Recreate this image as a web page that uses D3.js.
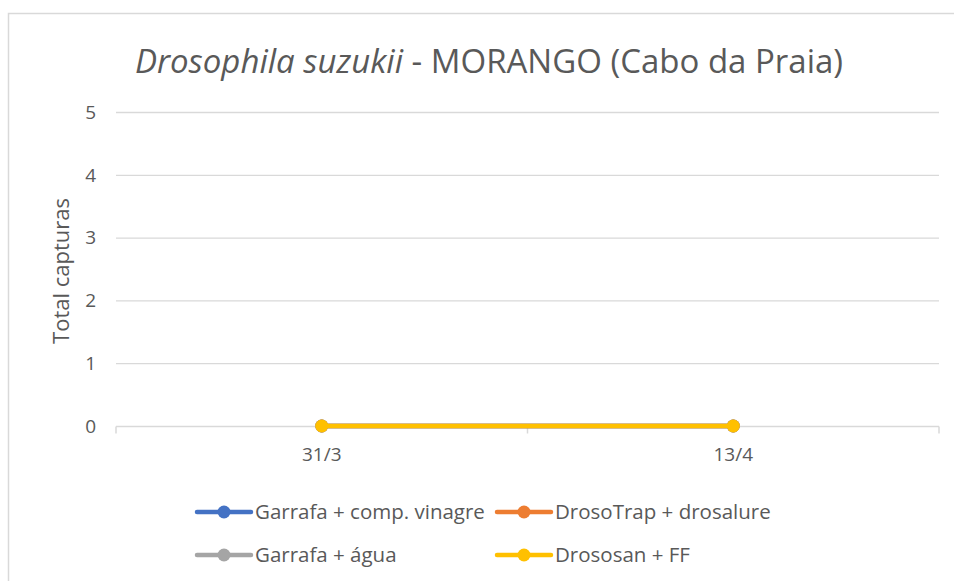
<!DOCTYPE html>
<html>
<head>
<meta charset="utf-8">
<script src="https://cdn.jsdelivr.net/npm/d3@7"></script>
<style>
  body { margin: 0; background: #fff; }
  svg { display: block; font-family: "Open Sans", "Noto Sans", sans-serif; }
</style>
</head>
<body>
<div id="chart"></div>
<script>
// data
const dates = ["31/3", "13/4"];
const seriesNames = ["Garrafa + comp. vinagre", "DrosoTrap + drosalure", "Garrafa + água", "Drososan + FF"];
const seriesColors = ["#4472C4", "#ED7D31", "#A5A5A5", "#FFC000"];
const garrafaVinagre = [0, 0];
const drosoTrap = [0, 0];
const garrafaAgua = [0, 0];
const drososan = [0, 0];
const yTicks = [0, 1, 2, 3, 4, 5];

const seriesValues = [garrafaVinagre, drosoTrap, garrafaAgua, drososan];

const W = 954, H = 581;
const plot = { left: 116, right: 939, top: 112, bottom: 426 };

const svg = d3.select("#chart").append("svg")
  .attr("width", W).attr("height", H);

// chart frame (runs off the right and bottom edges)
svg.append("rect")
  .attr("x", 8.5).attr("y", 13.5)
  .attr("width", W + 20).attr("height", H + 20)
  .attr("fill", "#fff")
  .attr("stroke", "#d9d9d9")
  .attr("stroke-width", 1.5);

const x = d3.scaleBand().domain(dates).range([plot.left, plot.right]);
const y = d3.scaleLinear().domain([0, 5]).range([plot.bottom, plot.top]);

// gridlines
svg.append("g")
  .selectAll("line")
  .data(yTicks.filter(d => d > 0))
  .join("line")
  .attr("x1", plot.left).attr("x2", plot.right)
  .attr("y1", d => y(d) + 0.5).attr("y2", d => y(d) + 0.5)
  .attr("stroke", "#d9d9d9").attr("stroke-width", 1.3);

// y tick labels
svg.append("g")
  .selectAll("text")
  .data(yTicks)
  .join("text")
  .attr("x", 96)
  .attr("y", d => y(d))
  .attr("dy", "0.36em")
  .attr("text-anchor", "end")
  .attr("font-size", "19px")
  .attr("fill", "#595959")
  .text(d => d);

// x axis line with category boundary ticks
const xAxis = d3.axisBottom(x).tickSize(0).tickFormat("");
const gx = svg.append("g")
  .attr("transform", `translate(0,${plot.bottom + 0.5})`)
  .call(xAxis);
gx.select(".domain").attr("stroke", "#d9d9d9").attr("stroke-width", 1.5)
  .attr("d", `M${plot.left},0H${plot.right}`);
const bounds = [plot.left, ...dates.slice(1).map(d => x(d)), plot.right];
gx.selectAll(".bound")
  .data(bounds)
  .join("line")
  .attr("class", "bound")
  .attr("x1", d => d).attr("x2", d => d)
  .attr("y1", 0).attr("y2", 7)
  .attr("stroke", "#d9d9d9").attr("stroke-width", 1.5);

// x tick labels
svg.append("g")
  .selectAll("text")
  .data(dates)
  .join("text")
  .attr("x", d => x(d) + x.bandwidth() / 2)
  .attr("y", 461)
  .attr("text-anchor", "middle")
  .attr("font-size", "19px")
  .attr("fill", "#595959")
  .text(d => d);

// axis title
svg.append("text")
  .attr("transform", `translate(69,${(plot.top + plot.bottom) / 2 + 2}) rotate(-90)`)
  .attr("text-anchor", "middle")
  .attr("font-size", "22px")
  .attr("fill", "#595959")
  .text("Total capturas");

// chart title
const title = svg.append("text")
  .attr("x", 489).attr("y", 73)
  .attr("text-anchor", "middle")
  .attr("font-size", "33px")
  .attr("fill", "#595959");
title.append("tspan").attr("font-style", "italic").text("Drosophila suzukii");
title.append("tspan").text(" - MORANGO (Cabo da Praia)");

// series
const line = d3.line()
  .x((d, i) => x(dates[i]) + x.bandwidth() / 2)
  .y(d => y(d));

seriesValues.forEach((vals, s) => {
  const g = svg.append("g");
  g.append("path")
    .datum(vals)
    .attr("d", line)
    .attr("fill", "none")
    .attr("stroke", seriesColors[s])
    .attr("stroke-width", 4.5)
    .attr("stroke-linecap", "round");
  g.selectAll("circle")
    .data(vals)
    .join("circle")
    .attr("cx", (d, i) => x(dates[i]) + x.bandwidth() / 2)
    .attr("cy", d => y(d))
    .attr("r", 6.5)
    .attr("fill", seriesColors[s]);
});

// legend
const legendPos = [[196, 512], [496, 512], [196, 555], [496, 555]];
const legend = svg.append("g");
seriesNames.forEach((name, i) => {
  const [lx, ly] = legendPos[i];
  const item = legend.append("g").attr("transform", `translate(${lx},${ly})`);
  item.append("line")
    .attr("x1", 1).attr("x2", 55)
    .attr("stroke", seriesColors[i]).attr("stroke-width", 4.5)
    .attr("stroke-linecap", "round");
  item.append("circle").attr("cx", 28).attr("r", 6.5).attr("fill", seriesColors[i]);
  item.append("text")
    .attr("x", 59).attr("dy", "0.36em")
    .attr("font-size", "20.5px")
    .attr("fill", "#595959")
    .text(name);
});
</script>
</body>
</html>
